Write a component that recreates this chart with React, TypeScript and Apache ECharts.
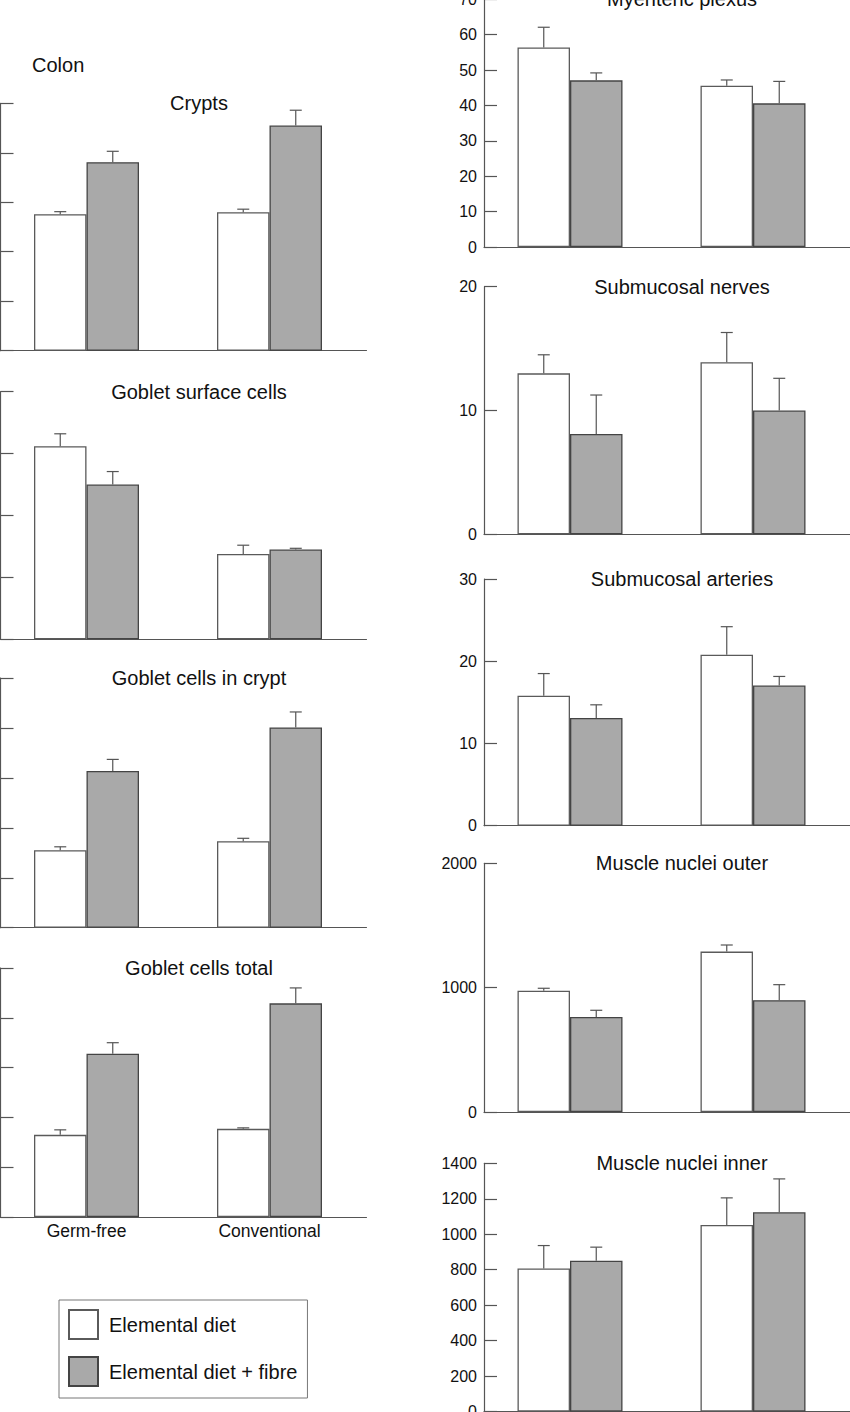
import React, { useEffect, useRef } from "react";
import * as echarts from "echarts";

// ---------- data ----------
const categories = ["Germ-free", "Conventional"];
const seriesNames = ["Elemental diet", "Elemental diet + fibre"];
const sectionLabel = "Colon";

const leftTitles = ["Crypts", "Goblet surface cells", "Goblet cells in crypt", "Goblet cells total"];
const rightTitles = ["Myenteric plexus", "Submucosal nerves", "Submucosal arteries", "Muscle nuclei outer", "Muscle nuclei inner"];

// Left column (tick labels are outside the picture; values in tick units)
const cryptsElemental = [2.76, 2.8];
const cryptsElementalErr = [0.05, 0.06];
const cryptsFibre = [3.81, 4.55];
const cryptsFibreErr = [0.22, 0.31];

const gobletSurfaceElemental = [3.12, 1.38];
const gobletSurfaceElementalErr = [0.2, 0.14];
const gobletSurfaceFibre = [2.5, 1.45];
const gobletSurfaceFibreErr = [0.21, 0.02];

const gobletCryptElemental = [1.55, 1.73];
const gobletCryptElementalErr = [0.07, 0.06];
const gobletCryptFibre = [3.14, 4.01];
const gobletCryptFibreErr = [0.23, 0.31];

const gobletTotalElemental = [1.65, 1.77];
const gobletTotalElementalErr = [0.1, 0.02];
const gobletTotalFibre = [3.28, 4.29];
const gobletTotalFibreErr = [0.22, 0.31];

// Right column
const myentericElemental = [56.4, 45.6];
const myentericElementalErr = [5.7, 1.6];
const myentericFibre = [47.1, 40.6];
const myentericFibreErr = [2.1, 6.2];

const nervesElemental = [13.0, 13.9];
const nervesElementalErr = [1.5, 2.4];
const nervesFibre = [8.1, 10.0];
const nervesFibreErr = [3.15, 2.6];

const arteriesElemental = [15.8, 20.8];
const arteriesElementalErr = [2.7, 3.4];
const arteriesFibre = [13.1, 17.05];
const arteriesFibreErr = [1.6, 1.1];

const outerElemental = [976, 1290];
const outerElementalErr = [19, 53];
const outerFibre = [764, 899];
const outerFibreErr = [54, 125];

const innerElemental = [807, 1052];
const innerElementalErr = [129, 153];
const innerFibre = [850, 1124];
const innerFibreErr = [77, 188];

// axis scales
const leftAxisMax = [5, 4, 5, 5];
const leftAxisInterval = [1, 1, 1, 1];
const rightAxisMax = [70, 20, 30, 2000, 1400];
const rightAxisInterval = [10, 10, 10, 1000, 200];

// ---------- layout / style ----------
const FONT = '"Liberation Sans", Arial, Helvetica, sans-serif';
const AXIS_COLOR = "#555";
const TEXT_COLOR = "#111";
const GREY = "#a9a9a9";
const BAR_W = 52.5;
const SPACER_W = 11;
const CAP = 6;

const leftLayout = [
  { top: 103.3, bottom: 350.7 },
  { top: 391.7, bottom: 639.3 },
  { top: 678, bottom: 927.7 },
  { top: 968, bottom: 1217 },
];
const rightLayout = [
  { top: -0.7, bottom: 247 },
  { top: 286.7, bottom: 534.3 },
  { top: 579, bottom: 825.7 },
  { top: 863.3, bottom: 1112 },
  { top: 1163.3, bottom: 1411.5 },
];

type Panel = {
  title: string;
  e: number[];
  eErr: number[];
  f: number[];
  fErr: number[];
  max: number;
  interval: number;
  side: "left" | "right";
  top: number;
  bottom: number;
  showX: boolean;
};

function buildPanels(): Panel[] {
  const leftData = [
    [cryptsElemental, cryptsElementalErr, cryptsFibre, cryptsFibreErr],
    [gobletSurfaceElemental, gobletSurfaceElementalErr, gobletSurfaceFibre, gobletSurfaceFibreErr],
    [gobletCryptElemental, gobletCryptElementalErr, gobletCryptFibre, gobletCryptFibreErr],
    [gobletTotalElemental, gobletTotalElementalErr, gobletTotalFibre, gobletTotalFibreErr],
  ];
  const rightData = [
    [myentericElemental, myentericElementalErr, myentericFibre, myentericFibreErr],
    [nervesElemental, nervesElementalErr, nervesFibre, nervesFibreErr],
    [arteriesElemental, arteriesElementalErr, arteriesFibre, arteriesFibreErr],
    [outerElemental, outerElementalErr, outerFibre, outerFibreErr],
    [innerElemental, innerElementalErr, innerFibre, innerFibreErr],
  ];
  const panels: Panel[] = [];
  leftData.forEach((d, i) =>
    panels.push({
      title: leftTitles[i], e: d[0], eErr: d[1], f: d[2], fErr: d[3],
      max: leftAxisMax[i], interval: leftAxisInterval[i], side: "left",
      top: leftLayout[i].top, bottom: leftLayout[i].bottom, showX: i === leftData.length - 1,
    })
  );
  rightData.forEach((d, i) =>
    panels.push({
      title: rightTitles[i], e: d[0], eErr: d[1], f: d[2], fErr: d[3],
      max: rightAxisMax[i], interval: rightAxisInterval[i], side: "right",
      top: rightLayout[i].top, bottom: rightLayout[i].bottom, showX: false,
    })
  );
  return panels;
}

function errorSeries(idx: number, means: number[], errs: number[], dx: number) {
  return {
    type: "custom",
    xAxisIndex: idx,
    yAxisIndex: idx,
    silent: true,
    z: 3,
    encode: { x: 0, y: [1, 2] },
    data: means.map((m, c) => [c, m, m + errs[c]]),
    renderItem: (_params: any, api: any) => {
      const c = api.value(0);
      const base = api.coord([c, api.value(1)]);
      const top = api.coord([c, api.value(2)]);
      const x = base[0] + dx;
      const st = { stroke: AXIS_COLOR, lineWidth: 1.2 };
      return {
        type: "group",
        children: [
          { type: "line", shape: { x1: x, y1: base[1], x2: x, y2: top[1] }, style: st },
          { type: "line", shape: { x1: x - CAP, y1: top[1], x2: x + CAP, y2: top[1] }, style: st },
        ],
      };
    },
  };
}

function buildOption() {
  const panels = buildPanels();
  const grids: any[] = [];
  const xAxes: any[] = [];
  const yAxes: any[] = [];
  const series: any[] = [];
  const graphics: any[] = [];

  const total = 2 * BAR_W + SPACER_W;
  const dxE = -total / 2 + BAR_W / 2;
  const dxF = -total / 2 + BAR_W + BAR_W / 2;

  panels.forEach((p, i) => {
    const left = p.side === "left" ? 0.5 : 484;
    grids.push({
      left,
      width: 366,
      top: p.top,
      height: p.bottom - p.top,
      containLabel: false,
      outerBoundsMode: "none",
    });
    xAxes.push({
      type: "category",
      gridIndex: i,
      data: categories,
      axisLine: { show: true, lineStyle: { color: AXIS_COLOR, width: 1.2 } },
      axisTick: { show: false },
      axisLabel: {
        show: p.showX,
        margin: 5,
        formatter: (v: string) => "{a|" + v + "}",
        rich: { a: { fontFamily: FONT, fontSize: 17.5, color: TEXT_COLOR, padding: [0, 11, 0, 0] } },
      },
      splitLine: { show: false },
    });
    yAxes.push({
      type: "value",
      gridIndex: i,
      min: 0,
      max: p.max,
      interval: p.interval,
      axisLine: { show: true, lineStyle: { color: AXIS_COLOR, width: 1.2 } },
      axisTick: { show: true, inside: true, length: 13, lineStyle: { color: AXIS_COLOR, width: 1.2 } },
      axisLabel: {
        show: p.side === "right",
        margin: 7,
        fontFamily: FONT,
        fontSize: 16,
        color: TEXT_COLOR,
        formatter: (v: number) => String(v),
      },
      splitLine: { show: false },
    });
    series.push({
      type: "bar",
      name: seriesNames[0],
      xAxisIndex: i,
      yAxisIndex: i,
      barWidth: BAR_W,
      barGap: "0%",
      data: p.e,
      itemStyle: { color: "#ffffff", borderColor: "#5a5a5a", borderWidth: 1.3 },
      emphasis: { disabled: true },
    });
    series.push({
      type: "bar",
      name: seriesNames[1],
      xAxisIndex: i,
      yAxisIndex: i,
      barWidth: BAR_W,
      barGap: "0%",
      data: p.f,
      itemStyle: { color: GREY, borderColor: "#444444", borderWidth: 1.3 },
      emphasis: { disabled: true },
    });
    series.push({
      type: "bar",
      name: "spacer",
      xAxisIndex: i,
      yAxisIndex: i,
      barWidth: SPACER_W,
      barGap: "0%",
      silent: true,
      data: [0, 0],
      itemStyle: { color: "transparent", borderWidth: 0 },
    });
    series.push(errorSeries(i, p.e, p.eErr, dxE));
    series.push(errorSeries(i, p.f, p.fErr, dxF));

    graphics.push({
      type: "text",
      x: p.side === "left" ? 199 : 682,
      y: p.top,
      style: {
        text: p.title,
        font: `20px ${FONT}`,
        fill: TEXT_COLOR,
        textAlign: "center",
        textVerticalAlign: "middle",
      },
    });
  });

  graphics.push({
    type: "text",
    x: 32,
    y: 65,
    style: {
      text: sectionLabel,
      font: `20px ${FONT}`,
      fill: TEXT_COLOR,
      textAlign: "left",
      textVerticalAlign: "middle",
    },
  });

  return {
    animation: false,
    backgroundColor: "#ffffff",
    grid: grids,
    xAxis: xAxes,
    yAxis: yAxes,
    series,
    graphic: graphics,
    legend: {
      data: seriesNames,
      orient: "vertical",
      left: 59,
      top: 1300,
      icon: "rect",
      itemWidth: 29,
      itemHeight: 29,
      itemGap: 16,
      padding: [9, 10, 11, 9],
      borderColor: "#777",
      borderWidth: 1,
      selectedMode: false,
      textStyle: { fontFamily: FONT, fontSize: 20, color: TEXT_COLOR, padding: [0, 0, 0, 6] },
    },
  };
}

export default function App() {
  const ref = useRef<HTMLDivElement>(null);
  useEffect(() => {
    if (!ref.current) return;
    const chart = echarts.init(ref.current, undefined, { renderer: "svg" });
    chart.setOption(buildOption() as any);
    return () => chart.dispose();
  }, []);
  return (
    <div
      ref={ref}
      style={{ position: "absolute", left: 0, top: 0, width: 850, height: 1412, background: "#fff" }}
    />
  );
}
